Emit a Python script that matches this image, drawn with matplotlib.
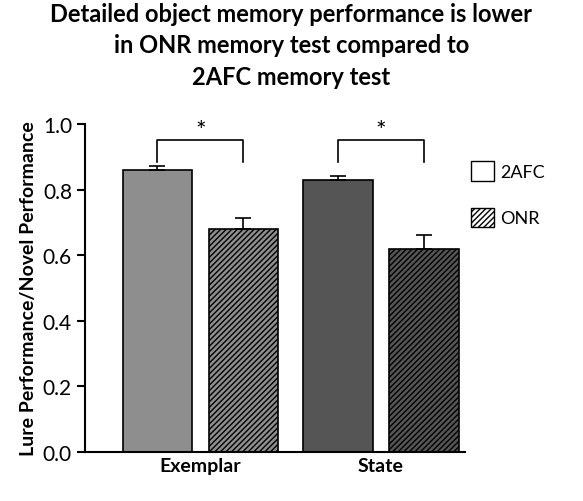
import matplotlib.pyplot as plt
from matplotlib.patches import Patch

plt.rcParams['font.family'] = ['Lato', 'DejaVu Sans']
plt.rcParams['hatch.linewidth'] = 1.0

groups = ["Exemplar", "State"]
conditions = ["2AFC", "ONR"]
means = [0.86, 0.68, 0.83, 0.62]
errors = [0.013, 0.032, 0.010, 0.040]
colors = ["#8e8e8e", "#8e8e8e", "#555555", "#555555"]
hatches = ["", "//////", "", "//////"]
positions = [0, 1, 2.1, 3.1]

fig = plt.figure(figsize=(5.83, 5.02), dpi=100)
ax = fig.add_axes([0.146, 0.098, 0.652, 0.653])

for x, m, e, c, h in zip(positions, means, errors, colors, hatches):
    ax.bar(x, m, width=0.81, color=c, edgecolor="black", linewidth=1.2, hatch=h, zorder=2)
    ax.errorbar(x, m, yerr=[[0], [e]], color="black", capsize=6, elinewidth=1.2,
                capthick=1.2, zorder=3)

# significance brackets
for a, b in [(0, 1), (2.1, 3.1)]:
    ax.plot([a, a, b, b], [0.885, 0.95, 0.95, 0.885], color="black", lw=1.2, clip_on=False)
    ax.text((a + b) / 2, 0.945, "*", ha="center", va="bottom", fontsize=18)

ax.set_xlim(-0.84, 3.58)
ax.set_ylim(0, 1.0)
ax.set_yticks([0, 0.2, 0.4, 0.6, 0.8, 1.0])
ax.set_yticklabels(["0.0", "0.2", "0.4", "0.6", "0.8", "1.0"], fontsize=15)
ax.set_xticks([0.5, 2.6])
ax.set_xticklabels(groups, fontsize=14, fontweight="bold")
ax.tick_params(axis="x", length=0)
ax.tick_params(axis="y", width=1.5, length=6)
ax.spines["top"].set_visible(False)
ax.spines["right"].set_visible(False)
ax.spines["left"].set_linewidth(1.5)
ax.spines["bottom"].set_linewidth(1.5)
ax.set_ylabel("Lure Performance/Novel Performance", fontsize=14, fontweight="bold")

handles = [Patch(facecolor="white", edgecolor="black", label=conditions[0]),
           Patch(facecolor="white", edgecolor="black", hatch="//////", label=conditions[1])]
fig.legend(handles=handles, loc="upper left", bbox_to_anchor=(0.78, 0.71), frameon=False,
           fontsize=13, handlelength=1.3, handleheight=1.3, labelspacing=1.5, handletextpad=0.3)

fig.suptitle("Detailed object memory performance is lower\nin ONR memory test compared to\n2AFC memory test",
             fontsize=17, fontweight="bold", y=0.995, linespacing=1.45)

fig.savefig("out.png", dpi=100)
